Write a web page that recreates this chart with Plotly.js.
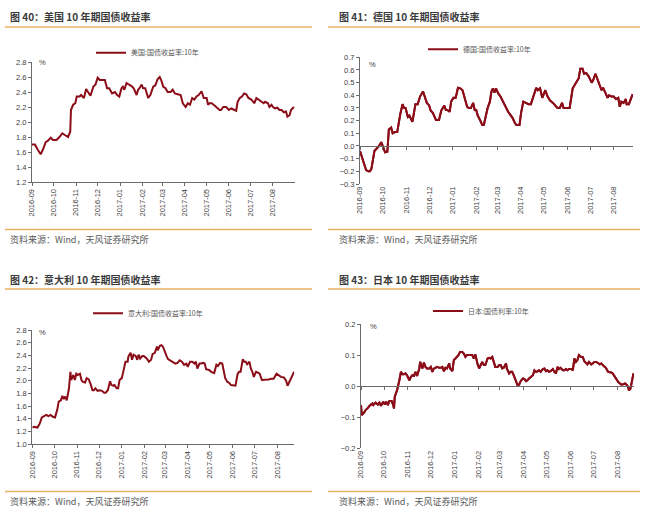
<!DOCTYPE html>
<html><head><meta charset="utf-8">
<script src="https://cdn.plot.ly/plotly-3.0.1.min.js"></script>
<style>html,body{margin:0;padding:0;background:#fff}#chart{width:650px;height:522px}</style>
</head><body><div id="chart"></div>
<script>
// ---------------- DATA ----------------
const usDates = ['2016-09-01','2016-09-05','2016-09-09','2016-09-13','2016-09-16','2016-09-20','2016-09-23','2016-09-27','2016-09-30','2016-10-05',
'2016-10-09','2016-10-13','2016-10-16','2016-10-21','2016-10-24','2016-10-25','2016-10-28','2016-10-31','2016-11-02','2016-11-06',
'2016-11-08','2016-11-12','2016-11-15','2016-11-18','2016-11-21','2016-11-25','2016-11-28','2016-12-01','2016-12-04','2016-12-07',
'2016-12-11','2016-12-14','2016-12-17','2016-12-21','2016-12-25','2016-12-28','2016-12-31','2017-01-03','2017-01-05','2017-01-07',
'2017-01-10','2017-01-13','2017-01-17','2017-01-20','2017-01-24','2017-01-26','2017-01-28','2017-01-31','2017-02-02','2017-02-05',
'2017-02-09','2017-02-12','2017-02-16','2017-02-19','2017-02-22','2017-02-25','2017-02-27','2017-03-02','2017-03-05','2017-03-08',
'2017-03-12','2017-03-15','2017-03-18','2017-03-22','2017-03-26','2017-03-29','2017-04-02','2017-04-05','2017-04-08','2017-04-11',
'2017-04-14','2017-04-17','2017-04-20','2017-04-24','2017-04-27','2017-05-01','2017-05-03','2017-05-05','2017-05-08','2017-05-12',
'2017-05-15','2017-05-19','2017-05-21','2017-05-24','2017-05-28','2017-06-01','2017-06-04','2017-06-08','2017-06-11','2017-06-13',
'2017-06-16','2017-06-19','2017-06-22','2017-06-25','2017-06-28','2017-07-02','2017-07-06','2017-07-09','2017-07-12','2017-07-16',
'2017-07-19','2017-07-21','2017-07-25','2017-07-27','2017-07-30','2017-08-01','2017-08-04','2017-08-07','2017-08-10','2017-08-13',
'2017-08-16','2017-08-19','2017-08-21','2017-08-24','2017-08-26','2017-08-30'];
const usYield = [1.70,1.70,1.63,1.57,1.63,1.73,1.75,1.79,1.76,1.76,
1.80,1.85,1.83,1.80,1.87,2.16,2.23,2.25,2.34,2.34,
2.36,2.32,2.44,2.40,2.35,2.47,2.50,2.59,2.56,2.56,
2.56,2.45,2.45,2.38,2.40,2.36,2.34,2.45,2.47,2.43,
2.52,2.50,2.48,2.45,2.36,2.43,2.45,2.50,2.45,2.45,
2.32,2.36,2.47,2.49,2.57,2.60,2.56,2.47,2.45,2.40,
2.40,2.43,2.38,2.37,2.36,2.25,2.20,2.25,2.23,2.32,
2.30,2.34,2.36,2.41,2.32,2.32,2.23,2.25,2.25,2.22,
2.19,2.16,2.16,2.20,2.20,2.16,2.18,2.16,2.15,2.27,
2.32,2.34,2.38,2.37,2.32,2.30,2.25,2.32,2.30,2.28,
2.25,2.27,2.25,2.20,2.23,2.20,2.18,2.19,2.16,2.16,
2.13,2.14,2.07,2.09,2.16,2.20];

const deDates = ['2016-09-01','2016-09-04','2016-09-07','2016-09-09','2016-09-12','2016-09-14','2016-09-16','2016-09-18','2016-09-20','2016-09-23',
'2016-09-26','2016-09-29','2016-10-01','2016-10-04','2016-10-07','2016-10-09','2016-10-12','2016-10-14','2016-10-17','2016-10-20',
'2016-10-24','2016-10-27','2016-10-29','2016-10-31','2016-11-03','2016-11-05','2016-11-09','2016-11-11','2016-11-13','2016-11-16',
'2016-11-19','2016-11-23','2016-11-25','2016-11-28','2016-12-01','2016-12-03','2016-12-06','2016-12-08','2016-12-10','2016-12-14',
'2016-12-17','2016-12-19','2016-12-21','2016-12-23','2016-12-25','2016-12-28','2016-12-30','2017-01-02','2017-01-05','2017-01-08',
'2017-01-11','2017-01-14','2017-01-17','2017-01-20','2017-01-22','2017-01-25','2017-01-28','2017-01-30','2017-02-01','2017-02-03',
'2017-02-06','2017-02-09','2017-02-11','2017-02-13','2017-02-16','2017-02-19','2017-02-21','2017-02-23','2017-02-25','2017-02-27',
'2017-03-02','2017-03-05','2017-03-08','2017-03-12','2017-03-15','2017-03-18','2017-03-21','2017-03-24','2017-03-26','2017-03-30',
'2017-04-01','2017-04-04','2017-04-08','2017-04-11','2017-04-14','2017-04-17','2017-04-19','2017-04-21','2017-04-23','2017-04-26',
'2017-04-29','2017-05-01','2017-05-03','2017-05-06','2017-05-09','2017-05-13','2017-05-16','2017-05-19','2017-05-22','2017-05-25',
'2017-05-27','2017-05-30','2017-06-04','2017-06-08','2017-06-10','2017-06-12','2017-06-16','2017-06-18','2017-06-21','2017-06-23',
'2017-06-26','2017-06-29','2017-07-03','2017-07-05','2017-07-08','2017-07-10','2017-07-14','2017-07-16','2017-07-18','2017-07-20',
'2017-07-24','2017-07-26','2017-07-29','2017-08-01','2017-08-04','2017-08-07','2017-08-09','2017-08-11','2017-08-14','2017-08-17',
'2017-08-18','2017-08-21','2017-08-24','2017-08-26'];
const deYield = [-0.04,-0.10,-0.145,-0.19,-0.20,-0.20,-0.18,-0.12,-0.04,-0.02,
0.00,0.03,-0.01,-0.05,-0.045,0.13,0.145,0.10,0.11,0.11,
0.25,0.33,0.30,0.30,0.23,0.24,0.19,0.26,0.33,0.33,
0.39,0.43,0.39,0.34,0.32,0.28,0.26,0.23,0.205,0.205,
0.28,0.30,0.32,0.285,0.285,0.27,0.35,0.38,0.38,0.46,
0.455,0.44,0.38,0.31,0.30,0.30,0.34,0.285,0.285,0.24,
0.205,0.165,0.165,0.23,0.30,0.35,0.43,0.455,0.42,0.455,
0.415,0.39,0.35,0.31,0.27,0.245,0.22,0.18,0.165,0.165,
0.26,0.35,0.34,0.33,0.33,0.39,0.42,0.46,0.44,0.455,
0.38,0.41,0.44,0.39,0.36,0.34,0.32,0.30,0.30,0.34,
0.30,0.30,0.30,0.455,0.48,0.495,0.535,0.61,0.61,0.57,
0.575,0.55,0.50,0.52,0.57,0.54,0.48,0.44,0.46,0.43,
0.38,0.40,0.39,0.39,0.37,0.38,0.31,0.35,0.34,0.37,
0.33,0.33,0.38,0.41];

const itDates = ['2016-09-01','2016-09-04','2016-09-08','2016-09-11','2016-09-14','2016-09-17','2016-09-20','2016-09-23','2016-09-26','2016-09-29',
'2016-10-02','2016-10-05','2016-10-07','2016-10-10','2016-10-12','2016-10-14','2016-10-16','2016-10-18','2016-10-21','2016-10-23',
'2016-10-24','2016-10-27','2016-10-29','2016-10-31','2016-11-02','2016-11-05','2016-11-07','2016-11-09','2016-11-12','2016-11-14',
'2016-11-17','2016-11-20','2016-11-22','2016-11-24','2016-11-26','2016-11-29','2016-12-02','2016-12-05','2016-12-08','2016-12-10',
'2016-12-13','2016-12-16','2016-12-18','2016-12-20','2016-12-22','2016-12-25','2016-12-27','2016-12-29','2017-01-01','2017-01-04',
'2017-01-06','2017-01-09','2017-01-10','2017-01-13','2017-01-15','2017-01-17','2017-01-20','2017-01-22','2017-01-24','2017-01-26',
'2017-01-29','2017-01-31','2017-02-04','2017-02-07','2017-02-10','2017-02-12','2017-02-15','2017-02-18','2017-02-19','2017-02-22',
'2017-02-24','2017-02-26','2017-03-01','2017-03-03','2017-03-05','2017-03-09','2017-03-12','2017-03-15','2017-03-18','2017-03-21',
'2017-03-24','2017-03-27','2017-03-30','2017-04-01','2017-04-04','2017-04-07','2017-04-10','2017-04-12','2017-04-14','2017-04-17',
'2017-04-19','2017-04-22','2017-04-24','2017-04-26','2017-04-30','2017-05-03','2017-05-07','2017-05-10','2017-05-12','2017-05-15',
'2017-05-18','2017-05-20','2017-05-22','2017-05-25','2017-05-27','2017-05-30','2017-06-02','2017-06-05','2017-06-08','2017-06-10',
'2017-06-12','2017-06-15','2017-06-17','2017-06-19','2017-06-21','2017-06-24','2017-06-26','2017-06-28','2017-06-30','2017-07-03',
'2017-07-05','2017-07-08','2017-07-11','2017-07-14','2017-07-17','2017-07-20','2017-07-24','2017-07-27','2017-07-31','2017-08-03',
'2017-08-06','2017-08-10','2017-08-13','2017-08-15','2017-08-17','2017-08-20','2017-08-24'];
const itYield = [1.26,1.27,1.26,1.32,1.42,1.44,1.46,1.44,1.46,1.43,
1.42,1.54,1.67,1.69,1.76,1.71,1.75,1.69,1.88,2.14,
2.01,2.09,2.01,2.11,2.09,2.11,2.01,1.98,1.97,2.04,
2.02,1.93,1.85,1.85,1.88,1.84,1.85,1.84,1.81,1.81,
1.85,1.99,1.93,1.92,1.93,1.88,1.88,2.01,2.04,2.19,
2.30,2.30,2.38,2.44,2.33,2.41,2.39,2.33,2.41,2.35,
2.39,2.39,2.35,2.30,2.33,2.42,2.44,2.54,2.48,2.55,
2.56,2.54,2.43,2.39,2.34,2.31,2.30,2.27,2.28,2.32,
2.30,2.25,2.27,2.22,2.30,2.30,2.27,2.30,2.19,2.27,
2.27,2.28,2.27,2.18,2.17,2.14,2.12,2.25,2.23,2.28,
2.27,2.12,2.04,1.98,1.97,1.93,1.92,1.92,2.11,2.14,
2.14,2.34,2.30,2.30,2.26,2.30,2.19,2.14,2.06,2.14,
2.13,2.11,2.01,2.01,2.02,2.02,2.03,2.03,2.11,2.08,
2.06,2.05,2.00,1.92,1.97,2.02,2.14];

const jpDates = ['2016-09-01','2016-09-02','2016-09-05','2016-09-07','2016-09-10','2016-09-13','2016-09-16','2016-09-17','2016-09-20','2016-09-23',
'2016-09-25','2016-09-27','2016-09-30','2016-10-02','2016-10-04','2016-10-06','2016-10-08','2016-10-11','2016-10-13','2016-10-14',
'2016-10-15','2016-10-18','2016-10-21','2016-10-23','2016-10-25','2016-10-27','2016-10-29','2016-10-31','2016-11-03','2016-11-05',
'2016-11-07','2016-11-09','2016-11-11','2016-11-13','2016-11-16','2016-11-17','2016-11-20','2016-11-22','2016-11-24','2016-11-26',
'2016-11-29','2016-12-01','2016-12-03','2016-12-05','2016-12-07','2016-12-09','2016-12-12','2016-12-14','2016-12-16','2016-12-18',
'2016-12-20','2016-12-22','2016-12-25','2016-12-26','2016-12-29','2016-12-31','2017-01-02','2017-01-04','2017-01-06','2017-01-08',
'2017-01-11','2017-01-13','2017-01-15','2017-01-17','2017-01-19','2017-01-21','2017-01-24','2017-01-26','2017-01-28','2017-01-31',
'2017-02-02','2017-02-04','2017-02-06','2017-02-08','2017-02-10','2017-02-13','2017-02-15','2017-02-17','2017-02-19','2017-02-21',
'2017-02-23','2017-02-26','2017-02-28','2017-03-02','2017-03-04','2017-03-06','2017-03-09','2017-03-10','2017-03-13','2017-03-15',
'2017-03-17','2017-03-19','2017-03-22','2017-03-24','2017-03-26','2017-03-28','2017-03-31','2017-04-02','2017-04-04','2017-04-06',
'2017-04-08','2017-04-10','2017-04-13','2017-04-15','2017-04-17','2017-04-19','2017-04-21','2017-04-23','2017-04-26','2017-04-28',
'2017-04-30','2017-05-02','2017-05-04','2017-05-06','2017-05-09','2017-05-11','2017-05-13','2017-05-15','2017-05-17','2017-05-19',
'2017-05-22','2017-05-24','2017-05-26','2017-05-28','2017-05-30','2017-06-02','2017-06-04','2017-06-06','2017-06-08','2017-06-10',
'2017-06-12','2017-06-15','2017-06-17','2017-06-19','2017-06-21','2017-06-23','2017-06-25','2017-06-28','2017-06-30','2017-07-02',
'2017-07-04','2017-07-06','2017-07-09','2017-07-11','2017-07-13','2017-07-15','2017-07-17','2017-07-20','2017-07-22','2017-07-24',
'2017-07-26','2017-07-28','2017-07-31','2017-08-02','2017-08-04','2017-08-06','2017-08-08','2017-08-11','2017-08-13','2017-08-15',
'2017-08-16','2017-08-18','2017-08-19','2017-08-21','2017-08-22'];
const jpYield = [-0.061,-0.093,-0.085,-0.077,-0.070,-0.061,-0.056,-0.061,-0.053,-0.059,
-0.053,-0.063,-0.050,-0.059,-0.050,-0.061,-0.048,-0.048,-0.061,-0.072,
-0.034,-0.013,0.019,0.046,0.038,0.038,0.041,0.035,0.019,0.030,
0.035,0.033,0.046,0.033,0.057,0.078,0.057,0.076,0.062,0.057,
0.057,0.062,0.046,0.057,0.059,0.062,0.059,0.059,0.062,0.048,
0.059,0.057,0.073,0.057,0.048,0.084,0.089,0.094,0.100,0.110,
0.110,0.105,0.094,0.100,0.100,0.102,0.100,0.089,0.102,0.070,
0.057,0.068,0.078,0.068,0.068,0.089,0.091,0.089,0.094,0.078,
0.062,0.062,0.068,0.068,0.057,0.059,0.073,0.057,0.041,0.046,
0.046,0.035,0.012,0.003,0.005,0.016,0.025,0.023,0.016,0.019,
0.025,0.030,0.035,0.051,0.046,0.048,0.051,0.046,0.055,0.057,
0.048,0.051,0.046,0.048,0.055,0.046,0.041,0.062,0.055,0.059,
0.051,0.051,0.055,0.051,0.055,0.055,0.051,0.089,0.078,0.084,
0.100,0.094,0.094,0.080,0.073,0.070,0.078,0.070,0.073,0.078,
0.078,0.076,0.070,0.073,0.068,0.062,0.059,0.046,0.046,0.044,
0.041,0.033,0.019,0.014,0.009,0.005,0.005,0.009,0.005,-0.002,
-0.013,-0.008,0.003,0.030,0.041];

const seriesNames = ['美国:国债收益率:10年','德国:国债收益率:10年','意大利:国债收益率:10年','日本:国债利率:10年'];
const chartTitles = ['图 40：美国 10 年期国债收益率','图 41：德国 10 年期国债收益率','图 42：意大利 10 年期国债收益率','图 43：日本 10 年期国债收益率'];
const sourceText = '资料来源：Wind，天风证券研究所';

// ---------------- LAYOUT (pixel geometry) ----------------
const W = 650, H = 522;
const fx = p => p / W;
const fy = p => 1 - p / H;
const LINE = '#8b0d18';
const GOLD = '#e6b45f';
const CJK = 'Noto Sans CJK SC, sans-serif';
const TICKF = {family: 'Liberation Sans, Arial, sans-serif', size: 7.5, color: '#404040'};

const panels = [
  {dates: usDates, vals: usYield, xl: 32, xr: 295, yt: 62, yb: 182, yr: [1.2, 2.8], dt: 0.2, xend: '2017-08-31 12:00', cross: false,
   legX: 131, legY: 52.7, pctX: 37, pctY: 62, titleX: 8, titleY: 16.5, topLine: 27, botLine: 229.5, srcY: 239.5, px0: 5, px1: 312},
  {dates: deDates, vals: deYield, xl: 360, xr: 633, yt: 57.3, yb: 184, yr: [-0.3, 0.7], dt: 0.1, xend: '2017-08-26 10:00', cross: true,
   legX: 463, legY: 49.3, pctX: 367, pctY: 64.5, titleX: 337, titleY: 16.5, topLine: 27, botLine: 229.5, srcY: 239.5, px0: 328, px1: 640},
  {dates: itDates, vals: itYield, xl: 32.3, xr: 294.3, yt: 330, yb: 444, yr: [1.0, 2.8], dt: 0.2, xend: '2017-08-24 05:00', cross: false,
   legX: 128, legY: 313.3, pctX: 37, pctY: 332.5, titleX: 8, titleY: 279, topLine: 289, botLine: 491.5, srcY: 501.7, px0: 5, px1: 312},
  {dates: jpDates, vals: jpYield, xl: 361, xr: 634, yt: 324, yb: 448.3, yr: [-0.2, 0.2], dt: 0.1, xend: '2017-08-22 17:00', cross: true,
   legX: 468, legY: 311, pctX: 367.5, pctY: 326.5, titleX: 337, titleY: 279, topLine: 289, botLine: 491.5, srcY: 501.7, px0: 328, px1: 640}
];

const traces = [];
const layout = {
  width: W, height: H, margin: {l: 0, r: 0, t: 0, b: 0},
  paper_bgcolor: '#fff', plot_bgcolor: 'rgba(0,0,0,0)',
  showlegend: true, annotations: [], shapes: [],
  font: {family: CJK}
};

panels.forEach((p, i) => {
  const n = i + 1;
  const xa = n === 1 ? 'xaxis' : 'xaxis' + n;
  const ya = n === 1 ? 'yaxis' : 'yaxis' + n;
  const xr = n === 1 ? 'x' : 'x' + n;
  const yr = n === 1 ? 'y' : 'y' + n;
  const lg = n === 1 ? 'legend' : 'legend' + n;
  traces.push({
    type: 'scatter', mode: 'lines', x: p.dates, y: p.vals, name: seriesNames[i],
    xaxis: xr, yaxis: yr, legend: lg,
    line: {color: LINE, width: 2}, hoverinfo: 'skip'
  });
  layout[xa] = {
    domain: [fx(p.xl), fx(p.xr)], anchor: yr, type: 'date',
    range: ['2016-09-01', p.xend], tick0: '2016-09-01', dtick: 'M1', tickformat: '%Y-%m',
    tickangle: -90, tickfont: TICKF, showgrid: false, zeroline: false,
    showline: !p.cross, linecolor: '#6b6b6b', linewidth: 1,
    ticks: p.cross ? '' : 'outside', ticklen: 3, tickcolor: '#6b6b6b'
  };
  layout[ya] = {
    domain: [fy(p.yb), fy(p.yt)], anchor: xr, range: p.yr, dtick: p.dt, tick0: 0, tickformat: '.1f',
    tickfont: TICKF, showgrid: false, zeroline: false,
    showline: true, linecolor: '#6b6b6b', linewidth: 1, ticks: 'outside', ticklen: 3, tickcolor: '#6b6b6b'
  };
  if (p.cross) {
    const k = n + 4;
    const zeroPx = p.yt + (p.yb - p.yt) * (p.yr[1] / (p.yr[1] - p.yr[0]));
    layout['xaxis' + k] = {
      domain: [fx(p.xl), fx(p.xr)], overlaying: xr, anchor: 'free', position: fy(zeroPx), type: 'date',
      range: ['2016-09-01', p.xend], tick0: '2016-09-01', dtick: 'M1',
      showticklabels: false, showgrid: false, zeroline: false,
      showline: true, linecolor: '#6b6b6b', linewidth: 1, ticks: 'outside', ticklen: 3, tickcolor: '#6b6b6b'
    };
    traces.push({type: 'scatter', mode: 'lines', x: p.dates, y: p.vals, xaxis: 'x' + k, yaxis: yr,
      line: {color: LINE, width: 2}, showlegend: false, hoverinfo: 'skip'});
  }
  layout[lg] = {
    x: fx(p.legX - 40), y: fy(p.legY), xanchor: 'left', yanchor: 'middle', orientation: 'h',
    bgcolor: 'rgba(0,0,0,0)', font: {family: CJK, size: 7, color: '#555'}, itemwidth: 30
  };
  layout.annotations.push(
    {xref: 'paper', yref: 'paper', x: fx(p.titleX), y: fy(p.titleY), xanchor: 'left', yanchor: 'middle', showarrow: false,
     text: '<b>' + chartTitles[i] + '</b>', font: {family: CJK, size: 10, color: '#3a3a3a'}},
    {xref: 'paper', yref: 'paper', x: fx(p.titleX), y: fy(p.srcY), xanchor: 'left', yanchor: 'middle', showarrow: false,
     text: sourceText, font: {family: CJK, size: 9, color: '#5a5a5a'}},
    {xref: 'paper', yref: 'paper', x: fx(p.pctX), y: fy(p.pctY), xanchor: 'left', yanchor: 'middle', showarrow: false,
     text: '%', font: {family: 'Liberation Sans, Arial, sans-serif', size: 7.5, color: '#404040'}}
  );
  layout.shapes.push(
    {type: 'line', xref: 'paper', yref: 'paper', x0: fx(p.px0), x1: fx(p.px1), y0: fy(p.topLine), y1: fy(p.topLine), line: {color: GOLD, width: 1.5}},
    {type: 'line', xref: 'paper', yref: 'paper', x0: fx(p.px0), x1: fx(p.px1), y0: fy(p.botLine), y1: fy(p.botLine), line: {color: GOLD, width: 1.5}}
  );
});

Plotly.newPlot('chart', traces, layout, {displayModeBar: false, staticPlot: true});
</script>
</body></html>
